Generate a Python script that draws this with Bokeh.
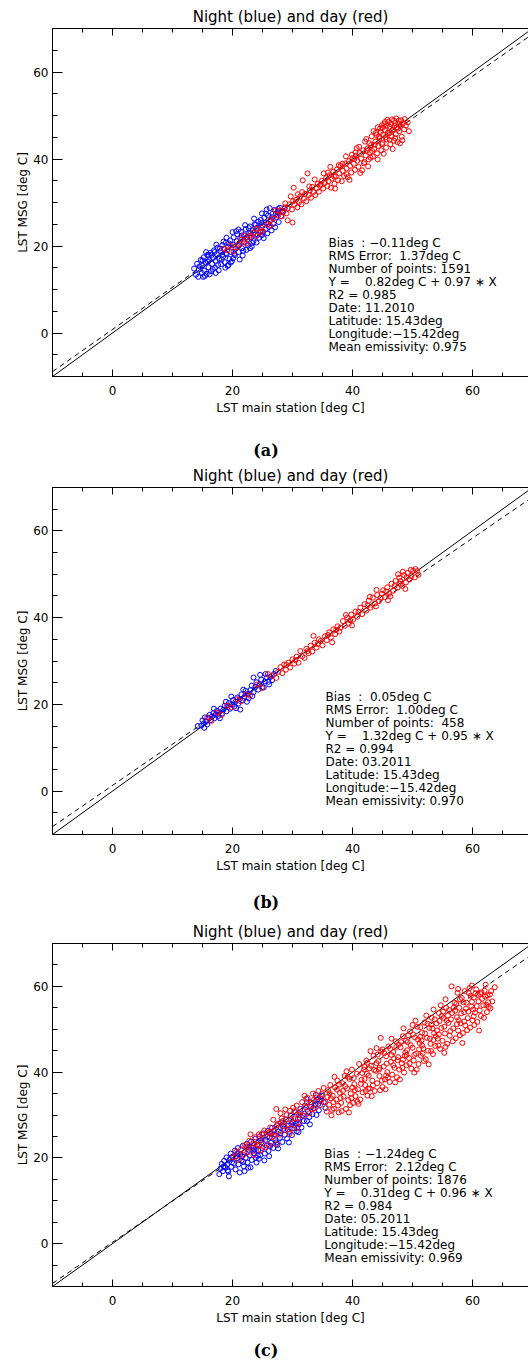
from bokeh.plotting import figure
from bokeh.models import Label, LinearAxis, FixedTicker, Range1d, Div, CustomJSTickFormatter
from bokeh.layouts import column
from bokeh.embed import file_html
from bokeh.resources import INLINE

# ---------------- data ----------------
X_RANGE = (-10, 69.33)
Y_RANGE = (-10, 70)
MAJOR_TICKS = [0, 20, 40, 60]
MINOR_TICKS = [-10, -5, 0, 5, 10, 15, 20, 25, 30, 35, 40, 45, 50, 55, 60, 65, 70]
PANEL_LABELS = ["(a)", "(b)", "(c)"]
TITLE = "Night (blue) and day (red)"
X_LABEL = "LST main station [deg C]"
Y_LABEL = "LST MSG [deg C]"

# regression line  Y = intercept + slope * X
INTERCEPTS = [0.82, 1.32, 0.31]
SLOPES = [0.97, 0.95, 0.96]

NB = "\u00a0"
STATS_A = ["Bias" + NB + NB + ": \u22120.11deg C", "RMS Error:" + NB + NB + "1.37deg C",
           "Number of points: 1591", "Y =" + NB * 4 + "0.82deg C + 0.97 \u2217 X", "R2 = 0.985",
           "Date: 11.2010", "Latitude: 15.43deg", "Longitude:\u221215.42deg", "Mean emissivity: 0.975"]
STATS_B = ["Bias" + NB + NB + ":" + NB + NB + "0.05deg C", "RMS Error:" + NB + NB + "1.00deg C",
           "Number of points:" + NB + NB + "458", "Y =" + NB * 4 + "1.32deg C + 0.95 \u2217 X", "R2 = 0.994",
           "Date: 03.2011", "Latitude: 15.43deg", "Longitude:\u221215.42deg", "Mean emissivity: 0.970"]
STATS_C = ["Bias" + NB + NB + ": \u22121.24deg C", "RMS Error:" + NB + NB + "2.12deg C",
           "Number of points: 1876", "Y =" + NB * 4 + "0.31deg C + 0.96 \u2217 X", "R2 = 0.984",
           "Date: 05.2011", "Latitude: 15.43deg", "Longitude:\u221215.42deg", "Mean emissivity: 0.969"]

NIGHT_A = [(13.6,14.8),(13.9,13.4),(14.1,15.9),(14.3,12.9),(14.4,14.6),(14.7,16.8),(14.9,13.8),(15.0,15.5),
    (15.2,17.4),(15.3,14.3),(15.5,16.2),(15.7,13.6),(15.8,17.9),(16.0,15.1),(16.1,16.7),(16.3,18.4),(16.4,14.2),
    (16.6,15.9),(16.8,17.3),(16.9,19.0),(17.1,15.0),(17.2,16.6),(17.4,18.1),(17.5,19.6),(17.7,14.4),(17.8,17.0),
    (18.0,18.8),(18.1,15.8),(18.3,20.2),(18.4,17.5),(18.6,19.3),(18.7,16.3),(18.9,20.8),(19.0,18.1),(19.2,15.4),
    (19.3,19.8),(19.5,17.0),(19.6,21.3),(19.8,18.6),(19.9,16.5),(20.1,20.3),(20.2,22.0),(20.4,17.9),(20.5,19.4),
    (20.7,21.1),(20.8,22.7),(21.0,18.6),(21.1,20.2),(21.3,21.8),(21.4,23.3),(21.6,19.5),(21.7,17.8),(21.9,20.9),
    (22.0,22.5),(22.2,23.9),(22.3,19.1),(22.5,21.5),(22.6,20.1),(22.8,23.0),(22.9,24.5),(23.1,22.0),(23.2,19.9),
    (23.4,23.6),(23.5,21.1),(23.7,25.0),(23.8,22.6),(24.0,20.8),(24.1,24.2),(24.3,25.6),(24.4,21.9),(24.6,23.3),
    (24.7,26.0),(24.9,22.5),(25.0,24.7),(25.2,21.8),(25.3,26.5),(25.5,23.8),(25.6,25.4),(25.8,22.9),(25.9,27.0),
    (26.1,24.4),(26.2,28.7),(26.4,26.0),(26.5,23.6),(26.7,27.4),(26.8,25.1),(27.0,28.3),(27.1,24.3),(27.3,26.6),
    (27.5,27.8),(27.7,25.5),(27.9,28.8),(28.1,26.9),(28.4,27.9),(28.7,28.6),(16.2,13.5),(18.8,15.0),(19.3,15.6),
    (21.2,16.9),(15.6,18.6),(17.3,20.3),(20.0,23.2),(22.1,24.8),(23.6,26.3),(15.1,12.9),(24.9,27.5),(25.7,28.4),
    (14.5,15.3),(15.4,13.1),(15.9,16.4),(16.5,17.9),(16.7,14.7),(17.0,18.6),(17.6,15.6),(17.9,19.4),(18.2,16.9),
    (18.5,21.0),(18.9,18.3),(19.4,20.6),(19.7,16.2),(20.3,18.2),(20.6,23.4),(20.9,20.0),(21.5,22.4),(21.8,18.9),
    (22.4,22.0),(22.7,24.1),(23.3,20.7),(23.9,24.9),(24.2,22.6),(24.8,25.3),(25.1,23.2),(25.6,27.4),(26.0,25.1),
    (26.6,26.6),(27.2,27.3),(27.6,28.5),(28.3,28.1),(16.0,18.0),(19.0,21.9),(21.0,23.8),(17.2,13.8),(20.1,17.2),
    (22.9,19.5),(15.0,16.7),(18.3,18.0),(23.0,22.9)]

DAY_A = [(18.5,19.4),(19.1,19.0),(19.7,20.1),(20.2,18.7),(20.8,19.7),(21.0,20.3),(21.5,21.5),(22.0,21.0),
    (22.3,20.6),(22.8,22.0),(23.0,22.4),(23.5,23.1),(24.0,22.3),(24.7,23.1),(25.0,23.5),(24.8,24.2),(25.8,25.0),
    (26.3,24.7),(26.3,25.9),(26.8,26.3),(27.2,28.2),(29.2,25.9),(30.0,25.4),(21.9,22.4),(23.9,23.9),
    (27.6,27.0),(27.9,28.1),(28.2,26.8),(28.4,27.7),(28.7,28.9),(29.0,27.5),(29.2,28.6),(29.5,29.6),(29.7,31.4),
    (29.9,28.4),(30.2,33.4),(30.3,29.5),(30.6,30.6),(30.8,28.9),(31.1,30.1),(31.3,31.4),(31.5,29.6),(31.7,35.1),
    (31.9,30.9),(32.1,32.0),(32.3,30.3),(32.5,36.7),(32.7,31.7),(32.9,32.8),(33.1,31.1),(33.3,33.6),(33.5,32.4),
    (33.8,31.7),(34.0,33.2),(34.2,34.3),(34.4,32.5),(34.6,33.8),(34.9,35.0),(35.1,33.2),(35.2,36.7),(35.4,34.5),
    (35.6,35.6),(35.8,33.8),(36.0,34.9),(36.2,36.3),(36.4,33.4),(36.6,35.5),(36.8,37.1),(37.0,34.3),(37.2,36.0),
    (37.4,37.6),(37.6,35.1),(37.8,36.7),(38.0,38.4),(38.2,34.9),(38.4,37.3),(38.6,36.1),(38.8,39.0),(39.0,37.8),
    (39.2,35.8),(39.4,39.5),(39.6,38.4),(39.8,36.9),(40.0,40.2),(40.2,38.9),(40.4,37.5),(40.6,40.8),(40.8,39.6),
    (41.0,38.2),(41.2,41.4),(41.4,40.1),(41.6,37.4),(41.8,42.0),(42.0,39.3),(42.2,40.8),(42.3,44.6),(42.5,42.4),
    (42.7,39.9),(42.9,41.5),(43.1,43.2),(43.2,45.2),(43.4,40.6),(43.6,42.3),(43.8,44.0),(43.9,46.0),(44.1,41.3),
    (44.3,43.0),(44.5,44.8),(44.6,47.0),(44.8,42.0),(45.0,43.7),(45.1,45.6),(45.3,48.0),(45.4,46.6),(45.6,42.6),
    (45.7,44.5),(45.9,46.1),(46.0,48.6),(46.2,47.4),(46.3,43.4),(46.5,45.2),(46.6,49.1),(46.8,46.8),(46.9,44.2),
    (47.1,48.3),(47.2,45.7),(47.4,47.3),(47.5,43.9),(47.7,48.8),(47.8,46.4),(48.0,47.6),(48.2,45.1),(48.4,48.2),
    (48.6,46.8),(48.9,47.7),(49.2,48.4),(44.0,45.5),(45.0,47.2),(46.1,45.9),(47.0,47.6),(43.3,41.8),(44.7,46.2),
    (45.5,45.0),(46.4,48.0),(47.6,47.0),(42.8,43.6),(41.1,42.8),(40.5,41.5),(39.9,41.0),
    (36.3,38.2),(37.1,33.2),(38.9,40.6),(39.5,35.2),(40.7,42.5),(41.3,36.8),(42.1,44.0),(42.6,38.3),(43.5,46.4),
    (44.2,39.9),(44.9,47.8),(45.2,41.2),(45.8,49.0),(46.7,42.3),(47.3,49.3),(47.9,43.6),(48.7,49.2),(48.3,44.3),
    (49.4,46.4),(43.0,40.3),(44.4,45.2),(45.7,47.7),(46.6,46.6),(47.8,48.1),(44.9,43.4),(41.9,39.0),(40.3,40.0),
    (39.0,36.5),(37.7,38.6),(35.9,36.9),(34.7,34.2),(33.7,35.3),(32.8,33.7),(31.6,32.4),(30.9,31.9),(30.1,30.3),
    (28.8,29.8),(46.9,48.8),(45.4,48.5),(44.2,47.3),(48.1,48.9),(47.1,44.8),(46.2,44.4),(43.7,43.3),(42.4,41.9),
    (38.3,38.9),(36.9,36.0)]

NIGHT_B = [(14.8,15.1),(15.0,16.3),(15.2,15.6),(15.4,17.0),(15.6,16.0),(15.8,15.4),(16.0,16.9),(16.2,17.6),
    (16.4,16.4),(16.6,17.2),(16.8,18.0),(17.0,16.8),(17.2,17.7),(17.4,18.5),(17.6,17.3),(17.8,18.2),(18.0,19.0),
    (18.3,17.9),(18.5,18.8),(18.7,19.7),(19.0,18.4),(19.2,19.4),(19.4,20.3),(19.6,19.0),(19.9,20.0),(20.1,21.0),
    (20.3,19.5),(20.5,20.6),(20.8,21.6),(21.0,20.2),(21.2,21.2),(21.5,22.3),(21.7,20.9),(22.0,21.8),(22.2,23.1),
    (22.5,22.4),(22.7,21.4),(23.0,23.3),(23.2,24.3),(23.5,22.8),(23.5,26.2),(23.8,24.0),(24.0,25.1),(24.3,23.4),
    (24.5,24.6),(24.8,25.7),(25.0,24.0),(25.2,23.9),(25.4,25.3),(25.7,26.2),(26.0,25.2),(26.3,26.3),(26.6,25.6),
    (26.9,27.0),(27.2,27.7),(16.9,19.0),(19.8,21.8),(21.3,18.8),(22.4,20.6),(24.6,26.8),(14.2,15.0),
    (15.3,14.6),(17.9,16.8),(20.6,19.1),(23.3,21.9),(25.5,27.0),(26.1,24.6),(18.9,20.6),(21.8,23.4)]

DAY_B = [(15.8,17.0),(16.5,16.2),(17.4,18.1),(18.2,17.6),(19.1,19.7),(19.8,19.3),(20.8,21.2),(21.4,20.7),
    (22.2,22.3),(22.9,22.0),(24.1,24.6),(24.9,23.8),(26.6,26.6),(25.9,27.0),(27.3,26.1),
    (27.6,27.5),(28.0,28.6),(28.3,27.2),(28.6,29.2),(28.9,28.0),(29.3,29.6),(29.6,28.5),(30.0,30.4),(30.3,29.4),
    (30.7,31.0),(31.0,29.6),(31.3,32.3),(31.6,31.1),(32.0,30.7),(32.3,32.8),(32.7,31.8),(33.0,33.5),(33.3,32.2),
    (33.7,34.2),(34.0,33.1),(34.4,35.0),(34.7,34.6),(35.0,33.6),(35.4,35.7),(35.7,34.8),(36.1,36.6),(36.4,35.4),
    (36.8,37.3),(37.1,36.2),(37.5,38.0),(37.8,36.8),(38.0,37.7),(38.4,39.2),(38.7,38.1),(39.1,40.0),(39.4,38.6),
    (39.8,40.7),(40.1,39.5),(40.5,41.4),(40.8,40.2),(41.3,42.3),(41.6,40.8),(42.0,43.1),(42.3,41.6),(42.7,43.9),
    (43.0,42.3),(43.4,44.6),(43.7,43.2),(44.1,45.2),(44.4,43.8),(44.7,44.6),(45.1,46.3),(45.4,44.7),(45.8,47.0),
    (46.1,45.5),(46.5,47.8),(46.8,46.2),(47.2,48.5),(47.5,46.9),(47.8,49.2),(48.0,48.4),(48.3,47.3),(48.6,49.8),
    (48.9,48.1),(49.2,50.3),(49.5,48.8),(49.8,49.6),(50.1,50.8),(50.4,49.3),(50.8,50.7),(51.0,49.9),(49.0,49.3),
    (48.4,50.6),(49.7,51.0),(47.0,47.3),(45.6,46.0),(44.9,45.5),(43.9,42.6),(42.5,42.8),(41.0,41.3),(39.6,39.4),
    (37.3,37.2),(35.9,36.0),(34.2,33.9),(32.5,32.3),(30.5,30.2),(29.0,29.1),(46.3,44.9),(47.9,47.8),
    (33.5,35.8),(36.6,34.3),(39.9,38.2),(42.9,44.8),(45.9,44.0),(48.8,46.6),(50.5,51.2),(47.6,50.0),(44.0,46.4),
    (38.9,40.6)]

NIGHT_C = [(17.8,16.2),(18.0,17.5),(18.2,18.6),(18.4,16.9),(18.6,19.3),(18.8,17.8),(19.0,20.1),(19.1,18.4),
    (19.3,16.8),(19.5,19.6),(19.7,21.0),(19.8,17.9),(20.0,20.3),(20.2,18.7),(20.4,21.7),(20.5,17.3),(20.7,19.9),
    (20.9,22.3),(21.0,18.5),(21.2,16.6),(21.3,20.9),(21.5,19.4),(21.7,22.8),(21.9,18.0),(22.0,21.3),(22.2,20.0),
    (22.4,23.3),(22.5,18.9),(22.7,21.9),(22.9,20.6),(23.1,23.8),(23.2,19.5),(23.4,22.4),(23.6,21.1),(23.8,24.4),
    (23.9,20.0),(24.1,23.0),(24.3,21.8),(24.5,25.0),(24.6,20.6),(24.8,23.6),(25.0,22.3),(25.2,25.7),(25.3,19.4),
    (25.5,24.2),(25.7,22.9),(25.9,26.3),(26.0,21.6),(26.2,24.8),(26.4,23.5),(26.6,27.0),(26.8,22.3),(27.0,25.5),
    (27.2,24.1),(27.4,27.6),(27.5,23.0),(27.7,26.1),(27.9,24.7),(28.1,28.3),(28.3,23.7),(28.5,26.8),(28.7,25.4),
    (28.9,29.0),(29.1,24.5),(29.3,27.5),(29.5,26.1),(29.7,29.8),(29.9,25.3),(30.1,28.3),(30.3,26.9),(30.5,30.6),
    (30.7,26.2),(30.9,29.1),(31.1,27.8),(31.3,31.4),(31.5,27.1),(31.7,29.9),(31.9,28.6),(32.1,32.2),(32.4,28.6),
    (32.6,30.8),(32.8,29.5),(33.0,33.0),(33.3,30.2),(33.5,31.6),(33.8,32.4),(34.1,33.6),(34.4,31.1),(34.6,33.3),
    (34.9,34.5),(35.2,33.0),(19.4,15.7),(22.0,16.9),(23.0,17.8),(24.0,18.9),(26.1,20.4),
    (19.2,17.1),(20.8,21.0),(22.6,17.7),(24.4,19.8),(25.8,24.9),(27.6,22.2),(29.4,23.6),(31.0,26.0),(32.9,27.8),
    (34.0,30.0),(30.6,28.0),(28.0,25.8),(26.3,22.8),(23.7,22.0),(21.6,20.4),(35.5,31.6),(33.9,34.7),(32.3,33.8),
    (18.5,18.0),(19.9,19.0),(20.6,20.4),(21.8,19.1),(22.8,22.6),(23.5,21.7),(24.7,24.1),(25.4,21.0),(26.5,25.6),
    (27.3,23.6),(28.4,27.4),(29.2,26.6),(30.2,27.6),(31.2,29.3),(32.0,30.3),(33.1,31.9),(34.3,32.6),(24.2,20.5),
    (26.9,26.4),(29.8,27.9)]

DAY_C = [(20.1,20.1),(20.6,21.4),(21.0,19.5),(21.4,22.0),(21.8,20.7),(22.1,23.0),(22.5,21.3),(22.8,24.0),
    (23.2,22.4),(23.5,20.6),(23.8,24.8),(24.1,23.1),(24.4,25.5),(24.7,21.8),(25.0,24.2),(25.3,26.4),(25.7,25.6),
    (26.0,23.0),(26.3,27.1),(26.6,24.8),(27.0,26.2),(27.3,31.4),(27.3,23.2),(27.6,28.0),(27.9,25.4),(28.2,29.2),
    (28.4,28.6),(28.7,26.5),(29.0,30.0),(29.3,27.9),(29.6,31.0),(29.9,26.8),(30.1,31.7),(30.4,29.2),(30.7,32.2),
    (31.0,28.3),(31.3,30.7),(31.6,33.0),(31.9,29.8),(32.2,31.8),(32.5,34.0),(32.8,30.4),(33.1,32.9),(33.4,35.0),
    (33.7,31.5),(34.0,34.1),(34.3,35.6),(34.6,32.3),(34.9,34.9),(35.2,36.3),(23.0,25.5),(25.5,22.4),(26.8,28.9),
    (29.5,25.6),(30.8,27.0),(24.5,22.9),(28.8,31.3),
    (22.3,22.6),(23.6,23.3),(24.9,25.6),(26.1,25.9),(27.4,27.6),(28.6,27.4),(29.8,29.0),(31.1,30.0),(32.4,32.9),
    (33.6,33.6),(34.8,33.7),(26.9,25.1),(28.0,30.4),(30.3,30.9),(32.0,34.5),(33.2,31.3),
    (35.5,33.0),(35.7,30.8),(35.9,35.8),(36.1,32.4),(36.3,37.0),(36.5,29.9),(36.7,34.5),(36.9,31.5),(37.1,36.4),
    (37.3,33.6),(37.5,38.0),(37.7,30.6),(37.9,35.2),(38.1,32.8),(38.3,37.4),(38.5,34.3),(38.7,39.1),(38.9,31.4),
    (39.1,36.2),(39.3,33.5),(39.5,38.4),(39.7,35.0),(39.9,40.6),(40.1,32.8),(40.3,37.2),(40.5,34.4),(40.7,39.6),
    (40.9,36.0),(41.1,41.9),(41.3,33.6),(41.5,38.2),(41.7,35.3),(41.9,40.6),(42.1,37.0),(42.3,42.7),(42.5,34.5),
    (42.7,39.2),(42.9,36.2),(43.1,41.5),(43.3,38.0),(43.5,43.8),(43.7,35.6),(43.9,40.3),(44.1,37.4),(44.3,42.6),
    (44.5,39.1),(44.7,48.0),(44.8,44.8),(45.0,36.5),(45.2,41.3),(45.4,38.3),(45.6,43.7),(45.8,40.0),(46.0,46.0),
    (46.2,37.7),(46.4,42.4),(46.6,39.4),(46.8,44.7),(47.0,41.0),(47.2,47.2),(47.4,38.8),(47.6,43.5),(47.8,40.6),
    (48.0,45.8),(48.2,42.1),(48.4,48.4),(48.6,39.9),(48.8,44.6),(49.0,41.6),(49.2,47.0),(49.4,43.3),(49.6,49.5),
    (49.8,40.8),(50.0,45.7),(50.2,42.7),(50.4,48.1),(50.6,44.3),(50.8,50.6),(51.0,41.9),(51.2,46.8),(51.4,43.8),
    (51.6,49.2),(51.8,45.5),(52.0,51.6),(52.2,43.0),(52.4,48.0),(52.6,45.0),(52.8,50.3),(53.0,46.6),(53.2,52.7),
    (53.4,44.2),(53.6,49.1),(53.8,46.1),(54.0,51.4),(54.2,47.8),(54.4,53.8),(54.6,45.4),(54.8,50.3),(55.0,47.3),
    (55.2,52.6),(55.4,49.0),(55.6,55.0),(55.8,46.6),(56.0,51.5),(56.2,48.5),(56.5,60.0),(56.6,53.8),(56.8,50.2),
    (57.0,56.2),(57.2,47.9),(57.4,52.8),(57.6,49.7),(57.8,55.0),(58.0,51.4),(58.2,57.3),(58.4,49.1),(58.6,54.0),
    (58.8,50.9),(59.0,56.2),(59.2,52.6),(59.4,58.4),(59.6,50.4),(59.8,55.3),(60.0,52.1),(60.2,57.4),(60.4,53.9),
    (60.6,59.3),(60.8,51.7),(61.0,56.5),(61.2,54.4),(61.5,58.6),(61.8,55.6),(62.1,57.6),(62.4,54.0),(62.9,58.1),
    (63.3,56.5),(63.7,59.8),(44.0,45.6),(46.5,47.8),(48.5,50.2),(50.5,52.0),(53.5,54.6),(55.5,57.0),(57.5,58.5),
    (59.5,59.6),(47.3,45.9),(49.3,48.6),(51.3,50.5),(53.1,51.1),(55.1,54.1),(57.1,54.3),(60.5,58.4),(58.7,58.9),
    (42.0,41.2),(43.0,44.9),(39.0,40.2),(37.0,38.9),
    (35.8,34.2),(36.6,31.2),(37.4,35.9),(38.2,30.9),(38.8,36.7),(39.6,32.3),(40.2,38.6),(40.8,33.1),(41.6,39.8),
    (42.2,35.6),(42.8,40.9),(43.4,36.9),(44.0,42.1),(44.6,35.8),(45.3,44.4),(45.9,38.7),(46.5,44.0),(47.1,37.6),
    (47.7,46.4),(48.3,41.0),(48.9,47.3),(49.5,42.0),(50.1,48.8),(50.7,40.6),(51.3,48.2),(51.9,42.6),(52.5,51.3),
    (53.1,44.9),(53.7,52.3),(54.3,46.2),(54.9,53.1),(55.5,45.9),(56.1,54.5),(56.7,47.2),(57.3,55.9),(57.9,48.6),
    (58.5,56.3),(59.1,49.8),(59.7,57.8),(60.3,51.0),(60.9,58.0),(61.4,53.1),(62.0,59.0),(62.6,56.3),(63.0,54.9),
    (61.1,49.7),(58.3,46.8),(55.3,44.5),(52.7,41.8),(50.3,39.9),(47.9,38.3),(45.5,36.0),(43.2,34.4),(41.0,32.6),
    (39.4,30.6),(44.4,40.6),(46.9,43.2),(49.1,45.1),(51.5,47.4),(54.1,49.7),(56.4,52.3),(58.9,54.8),(61.6,57.1),
    (36.4,33.9),(37.8,37.1),(42.5,42.2),(45.0,45.3),(50.0,51.0),(52.3,53.2),(54.7,55.6),(57.6,59.4),(59.9,60.2),
    (62.2,60.4),
    (36.2,35.1),(37.6,32.2),(38.4,35.6),(39.2,38.9),(40.4,35.8),(41.4,37.3),(42.4,39.6),(43.6,40.5),(44.2,44.1),
    (44.9,38.0),(45.7,42.0),(46.3,45.4),(47.5,42.8),(48.1,47.0),(48.7,43.8),(49.7,46.3),(50.3,44.0),(50.9,47.6),
    (51.7,44.3),(52.1,49.0),(52.9,47.8),(53.3,50.2),(53.9,48.4),(54.5,51.9),(55.3,50.6),(55.9,53.2),(56.3,49.6),
    (56.9,55.1),(57.7,52.1),(58.1,53.7),(58.6,51.8),(59.3,54.1),(59.9,56.4),(60.7,55.4),(61.3,58.2),(61.9,52.7),
    (62.5,57.9),(63.1,58.9),(62.7,55.2),(60.1,54.6),(57.9,57.0),(55.7,52.0),(53.5,47.5),(51.1,45.3),(49.0,44.0),
    (46.8,41.6),(44.5,41.0),(42.0,38.4),(40.0,36.4),(38.0,34.0),(36.8,33.0),(39.8,33.9),(42.6,36.1),(45.6,39.2),
    (48.4,42.9),(51.6,46.2),(54.4,48.8),(57.4,51.2),(60.2,53.0),(62.3,55.7)]

# ---------------- styling ----------------
FONT = "DejaVu Sans"
SERIF = "DejaVu Serif"
BLUE = "#0000ff"
RED = "#ff0000"
WIDTH = 528


def make_panel(night, day, stats, intercept, slope, frame_h, top_border, text_pos):
    p = figure(width=WIDTH, height=top_border + frame_h + 44,
               x_range=Range1d(*X_RANGE), y_range=Range1d(*Y_RANGE),
               output_backend="svg", toolbar_location=None,
               min_border_left=52, min_border_right=0, min_border_top=top_border, min_border_bottom=44,
               x_axis_label=X_LABEL, y_axis_label=Y_LABEL)
    p.outline_line_color = None
    p.grid.visible = False
    p.background_fill_color = "white"
    p.border_fill_color = "white"

    p.title.text = TITLE
    p.title.align = "center"
    p.title.text_font = FONT
    p.title.text_font_size = "15px"
    p.title.text_font_style = "normal"
    p.title.text_color = "black"
    p.title.standoff = 5

    ticker = FixedTicker(ticks=MAJOR_TICKS, minor_ticks=MINOR_TICKS)
    xa = p.xaxis[0]
    ya = p.yaxis[0]
    for ax, mj, mn in ((xa, 7, 4), (ya, 10, 5)):
        ax.ticker = ticker
        ax.major_tick_in = mj
        ax.major_tick_out = 0
        ax.minor_tick_in = mn
        ax.minor_tick_out = 0
        ax.axis_line_color = "black"
        ax.major_tick_line_color = "black"
        ax.minor_tick_line_color = "black"
        ax.major_label_text_font = FONT
        ax.major_label_text_font_size = "12px"
        ax.major_label_text_color = "black"
        ax.axis_label_text_font = FONT
        ax.axis_label_text_font_size = "12px"
        ax.axis_label_text_font_style = "normal"
        ax.axis_label_text_color = "black"
    xa.major_label_standoff = 9
    xa.axis_label_standoff = 3
    ya.major_label_standoff = 4
    ya.axis_label_standoff = 0

    top = LinearAxis(ticker=ticker, formatter=CustomJSTickFormatter(code="return ''"),
                     major_tick_in=7, major_tick_out=0, minor_tick_in=4, minor_tick_out=0,
                     major_label_standoff=0, major_label_text_font_size="1px",
                     axis_line_color="black")
    p.add_layout(top, "above")

    # 1:1 line (solid) and regression line (dashed)
    ends = [Y_RANGE[0], Y_RANGE[1]]
    p.line(x=ends, y=ends, line_color="black", line_width=1)
    ry = [intercept + slope * v for v in ends]
    p.line(x=ends, y=ry, line_color="black", line_width=1, line_dash="5 4")

    nx, ny = zip(*night)
    dx, dy = zip(*day)
    p.scatter(x=list(nx), y=list(ny), marker="circle", size=5, fill_color=None,
              line_color=BLUE, line_width=1)
    p.scatter(x=list(dx), y=list(dy), marker="circle", size=5, fill_color=None,
              line_color=RED, line_width=1)

    # statistics block: one label per line, 13 px apart
    units_per_px = (Y_RANGE[1] - Y_RANGE[0]) / frame_h
    for i, line in enumerate(stats):
        p.add_layout(Label(x=text_pos[0], y=text_pos[1] - i * 13 * units_per_px, text=line,
                           text_font=FONT, text_font_size="12px", text_color="black",
                           text_baseline="middle", text_align="left"))
    return p


def make_tag(txt, h, top_px):
    html = ('<div style="width:%dpx;height:%dpx;padding-top:%dpx;padding-left:4px;box-sizing:border-box;'
            'text-align:center;font-family:\'%s\';font-weight:bold;font-size:16px;line-height:18px;'
            'color:black;overflow:hidden;">%s</div>' % (WIDTH, h, top_px, SERIF, txt))
    return Div(text=html, width=WIDTH, height=h, margin=0)


pa = make_panel(NIGHT_A, DAY_A, STATS_A, INTERCEPTS[0], SLOPES[0], 348, 28, (36.0, 20.6))
pb = make_panel(NIGHT_B, DAY_B, STATS_B, INTERCEPTS[1], SLOPES[1], 348, 24, (35.5, 21.6))
pc = make_panel(NIGHT_C, DAY_C, STATS_C, INTERCEPTS[2], SLOPES[2], 344, 24, (35.3, 20.9))

layout = column(pa, make_tag(PANEL_LABELS[0], 42, 22),
                pb, make_tag(PANEL_LABELS[1], 40, 16),
                pc, make_tag(PANEL_LABELS[2], 36, 12))

open("out.html", "w").write(file_html(layout, INLINE))
